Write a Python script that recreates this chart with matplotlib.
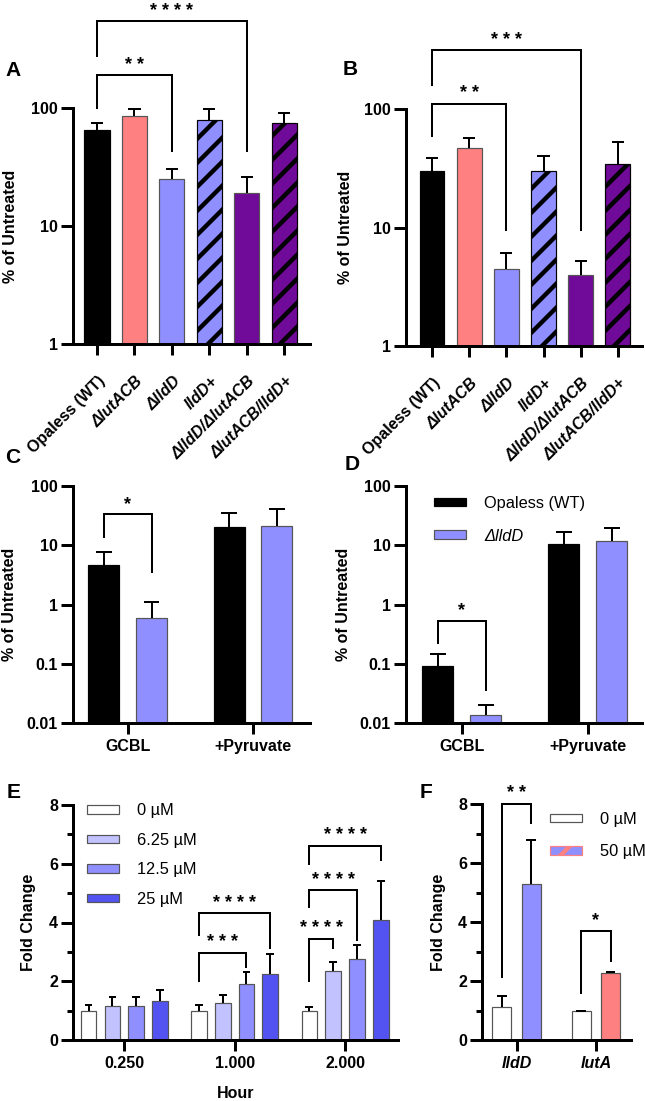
import matplotlib
matplotlib.use("Agg")
import matplotlib.pyplot as plt
import matplotlib.transforms as mtransforms
import numpy as np
from matplotlib.patches import Patch
from matplotlib.ticker import NullLocator, MultipleLocator

# ---- data ----------------------------------------------------------------
strains = ["Opaless (WT)", "ΔlutACB", "ΔlldD", "lldD+", "ΔlldD/ΔlutACB", "ΔlutACB/lldD+"]
strain_italic = [False, True, True, True, True, True]

a_mean = [65, 85, 25, 79, 19.2, 74]
a_sd = [10, 13, 5.6, 20, 6.8, 16]

b_mean = [30, 47, 4.5, 30, 4.0, 34.5]
b_sd = [8.4, 9.6, 1.6, 10.2, 1.2, 17.9]

media = ["GCBL", "+Pyruvate"]
c_wt = [4.65, 20.5]
c_wt_sd = [3.05, 14.5]
c_ko = [0.59, 20.8]
c_ko_sd = [0.52, 20.0]

d_wt = [0.093, 10.5]
d_wt_sd = [0.054, 6.0]
d_ko = [0.0136, 11.9]
d_ko_sd = [0.0065, 7.3]

hours = ["0.250", "1.000", "2.000"]
conc = ["0 µM", "6.25 µM", "12.5 µM", "25 µM"]
e_mean = [
    [1.0, 1.0, 0.98],
    [1.15, 1.25, 2.34],
    [1.15, 1.90, 2.75],
    [1.32, 2.24, 4.08],
]
e_sd = [
    [0.19, 0.19, 0.14],
    [0.31, 0.29, 0.32],
    [0.33, 0.40, 0.49],
    [0.38, 0.68, 1.32],
]

genes = ["lldD", "lutA"]
f_ctrl = [1.11, 0.98]
f_ctrl_sd = [0.39, 0.02]
f_trt = [5.28, 2.28]
f_trt_sd = [1.5, 0.04]

# ---- style ---------------------------------------------------------------
DPI = 144
W, H = 645, 1101

BLACK = "#000000"
SALMON = "#FF8080"
LAV = "#8F8FFF"
LAV_LIGHT = "#C2C2FF"
BLUE = "#5353F2"
PURPLE = "#700A98"
EDGE = "#555555"
LEG_FONT = {"size": 8.2, "weight": "normal"}

plt.rcParams["font.family"] = ["Liberation Sans", "DejaVu Sans"]
plt.rcParams["font.weight"] = "bold"
plt.rcParams["hatch.linewidth"] = 2.2
plt.rcParams["axes.linewidth"] = 1.5
plt.rcParams["xtick.major.width"] = 1.5
plt.rcParams["ytick.major.width"] = 1.5
plt.rcParams["ytick.minor.width"] = 1.5
plt.rcParams["xtick.major.size"] = 5.5
plt.rcParams["ytick.major.size"] = 6
plt.rcParams["ytick.minor.size"] = 3
plt.rcParams["xtick.major.pad"] = 2.5
plt.rcParams["ytick.major.pad"] = 1.5
plt.rcParams["xtick.labelsize"] = 8
plt.rcParams["ytick.labelsize"] = 8
plt.rcParams["axes.labelweight"] = "bold"
plt.rcParams["axes.labelsize"] = 8

fig = plt.figure(figsize=(W / DPI, H / DPI), dpi=DPI)


def px_axes(l, t, r, b):
    ax = fig.add_axes([l / W, 1 - b / H, (r - l) / W, (b - t) / H])
    ax.spines[["top", "right"]].set_visible(False)
    return ax


def ylabel_at(ax, text, x_px, l, r):
    ax.set_ylabel(text)
    ax.yaxis.label.set_va("center")
    ax.yaxis.set_label_coords((x_px - l) / (r - l), 0.5)


def upper_err(ax, x, y, sd, cap):
    x = np.asarray(x, float)
    top = np.asarray(y) + np.asarray(sd)
    ax.vlines(x, y, top, color="k", lw=1.0, zorder=3)
    ax.hlines(top, x - cap / 2, x + cap / 2, color="k", lw=1.0, zorder=3)


def bracket(ax, x1, x2, y_top, y1, y2, label):
    ax.plot([x1, x1, x2, x2], [y1, y_top, y_top, y2], color="k", lw=1.0,
            clip_on=False, solid_joinstyle="miter")
    ax.annotate(label, xy=((x1 + x2) / 2, y_top), xytext=(0, 2.8),
                textcoords="offset points", ha="center", va="baseline",
                fontsize=9, fontweight="bold", annotation_clip=False)


def letter(text, x_px, base_px):
    fig.text(x_px / W, 1 - base_px / H, text, fontsize=10.5, fontweight="bold",
             ha="left", va="baseline")


def log_ticks(ax, ticks, labels):
    ax.set_yscale("log")
    ax.set_yticks(ticks)
    ax.set_yticklabels(labels)
    ax.yaxis.set_minor_locator(NullLocator())


# ---- A / B: strains ------------------------------------------------------
strain_colors = [BLACK, SALMON, LAV, LAV, PURPLE, PURPLE]
strain_hatch = [None, None, None, "//", None, "//"]
label_shift = mtransforms.ScaledTranslation(3 / 72, -7.5 / 72, fig.dpi_scale_trans)

for rect, mean, sd, xl, lab_x, brs in [
    ((73, 108, 310, 344), a_mean, a_sd, (-0.64, 5.69), 11,
     [(0, 2, 190, 100, 43.5, "* *"), (0, 4, 545, 277, 43.5, "* * * *")]),
    ((406, 109, 642, 346), b_mean, b_sd, (-0.70, 5.65), 345,
     [(0, 2, 110, 59.3, 9.57, "* *"), (0, 4, 314, 159, 9.57, "* * *")]),
]:
    ax = px_axes(*rect)
    x = np.arange(len(strains))
    for i in range(len(strains)):
        hatched = strain_hatch[i] is not None
        ax.bar(x[i], mean[i] - 1, bottom=1, width=0.67, color=strain_colors[i],
               edgecolor=BLACK if (hatched or strain_colors[i] == BLACK) else EDGE,
               linewidth=0.6, hatch=strain_hatch[i], zorder=2)
    upper_err(ax, x, mean, sd, 0.33)
    log_ticks(ax, [1, 10, 100], ["1", "10", "100"])
    ax.set_ylim(1, 100)
    ax.set_xlim(*xl)
    ax.set_xticks(x)
    ax.set_xticklabels(strains, rotation=45, ha="right", va="center", rotation_mode="anchor")
    ax.tick_params(axis="x", pad=4.5)
    for t, it in zip(ax.get_xticklabels(), strain_italic):
        t.set_transform(t.get_transform() + label_shift)
        if it:
            t.set_style("italic")
    ylabel_at(ax, "% of Untreated", lab_x, rect[0], rect[2])
    for b in brs:
        bracket(ax, *b)

# ---- C / D: media --------------------------------------------------------
for rect, wt, wt_sd, ko, ko_sd, xl, lab_x, br in [
    ((73, 486, 310, 723), c_wt, c_wt_sd, c_ko, c_ko_sd, (-0.437, 1.455), 9,
     (-0.19, 0.19, 33.1, 13.9, 3.5, "*")),
    ((406, 486, 642, 723), d_wt, d_wt_sd, d_ko, d_ko_sd, (-0.442, 1.431), 344,
     (-0.19, 0.19, 0.532, 0.224, 0.036, "*")),
]:
    ax = px_axes(*rect)
    x = np.arange(len(media))
    ax.bar(x - 0.19, np.array(wt) - 0.01, bottom=0.01, width=0.247, color=BLACK,
           edgecolor=BLACK, linewidth=0.6, zorder=2, label="Opaless (WT)")
    ax.bar(x + 0.19, np.array(ko) - 0.01, bottom=0.01, width=0.247, color=LAV,
           edgecolor=EDGE, linewidth=0.6, zorder=2, label="ΔlldD")
    upper_err(ax, x - 0.19, wt, wt_sd, 0.125)
    upper_err(ax, x + 0.19, ko, ko_sd, 0.125)
    log_ticks(ax, [0.01, 0.1, 1, 10, 100], ["0.01", "0.1", "1", "10", "100"])
    ax.set_ylim(0.01, 100)
    ax.set_xlim(*xl)
    ax.set_xticks(x)
    ax.set_xticklabels(media)
    ylabel_at(ax, "% of Untreated", lab_x, rect[0], rect[2])
    bracket(ax, *br)
    if rect[0] > 300:
        leg = ax.legend(loc="upper left", bbox_to_anchor=(434 / W, 1 - 496 / H),
                        bbox_transform=fig.transFigure, frameon=False,
                        borderpad=0, borderaxespad=0, handlelength=1.95,
                        handleheight=0.43, handletextpad=1.1, labelspacing=1.07,
                        prop=LEG_FONT)
        leg.get_texts()[1].set_style("italic")

# ---- E: time course ------------------------------------------------------
e_colors = ["white", LAV_LIGHT, LAV, BLUE]
e_offs = [-0.323, -0.107, 0.107, 0.323]
rect = (73, 805, 398, 1040)
ax = px_axes(*rect)
x = np.arange(len(hours))
for k in range(len(conc)):
    ax.bar(x + e_offs[k], e_mean[k], width=0.142, color=e_colors[k], edgecolor=EDGE,
           linewidth=0.6, zorder=2, label=conc[k])
    upper_err(ax, x + e_offs[k], e_mean[k], e_sd[k], 0.07)
ax.set_ylim(0, 8)
ax.set_xlim(-0.464, 2.48)
ax.yaxis.set_major_locator(MultipleLocator(2))
ax.yaxis.set_minor_locator(MultipleLocator(1))
ax.set_xticks(x)
ax.set_xticklabels(hours)
ax.set_xlabel("Hour", labelpad=7.5)
ylabel_at(ax, "Fold Change", 29, rect[0], rect[2])
ax.legend(loc="upper left", bbox_to_anchor=(87.3 / W, 1 - 803.5 / H),
          bbox_transform=fig.transFigure, frameon=False, borderpad=0,
          borderaxespad=0, handlelength=1.95, handleheight=0.43,
          handletextpad=1.1, labelspacing=0.88, prop=LEG_FONT)
bracket(ax, 1 + e_offs[0], 1 + e_offs[2], 2.96, 2.01, 2.50, "* * *")
bracket(ax, 1 + e_offs[0], 1 + e_offs[3], 4.31, 3.58, 3.13, "* * * *")
bracket(ax, 2 + e_offs[0], 2 + e_offs[1], 3.45, 2.01, 3.13, "* * * *")
bracket(ax, 2 + e_offs[0], 2 + e_offs[2], 5.09, 4.54, 3.41, "* * * *")
bracket(ax, 2 + e_offs[0], 2 + e_offs[3], 6.62, 6.0, 6.14, "* * * *")

# ---- F: gene expression --------------------------------------------------
rect = (482, 804, 631, 1040)
ax = px_axes(*rect)
x = np.arange(len(genes))
ax.bar(x - 0.185, f_ctrl, width=0.24, color="white", edgecolor=EDGE, linewidth=0.6, zorder=2)
ax.bar(x + 0.185, f_trt, width=0.24, color=[LAV, SALMON], edgecolor=EDGE, linewidth=0.6, zorder=2)
upper_err(ax, x - 0.185, f_ctrl, f_ctrl_sd, 0.12)
upper_err(ax, x + 0.185, f_trt, f_trt_sd, 0.12)
ax.set_ylim(0, 8)
ax.set_xlim(-0.435, 1.443)
ax.yaxis.set_major_locator(MultipleLocator(2))
ax.yaxis.set_minor_locator(MultipleLocator(1))
ax.set_xticks(x)
ax.set_xticklabels(genes, style="italic")
ylabel_at(ax, "Fold Change", 438, rect[0], rect[2])
handles = [Patch(facecolor="white", edgecolor=EDGE, linewidth=0.6),
           Patch(facecolor=LAV, edgecolor=SALMON, hatch="//", linewidth=0.6)]
ax.legend(handles, ["0 µM", "50 µM"], loc="upper left",
          bbox_to_anchor=(550 / W, 1 - 812 / H), bbox_transform=fig.transFigure,
          frameon=False, borderpad=0, borderaxespad=0, handlelength=1.95,
          handleheight=0.43, handletextpad=1.1, labelspacing=1.06, prop=LEG_FONT)
bracket(ax, -0.185, 0.185, 8.0, 2.13, 7.37, "* *")
bracket(ax, 1 - 0.185, 1 + 0.185, 3.69, 1.58, 2.68, "*")

# ---- panel letters -------------------------------------------------------
letter("A", 5, 76)
letter("B", 343, 75)
letter("C", 5, 463)
letter("D", 345, 470)
letter("E", 7, 798)
letter("F", 420, 798)

fig.savefig("out.png", dpi=DPI)
